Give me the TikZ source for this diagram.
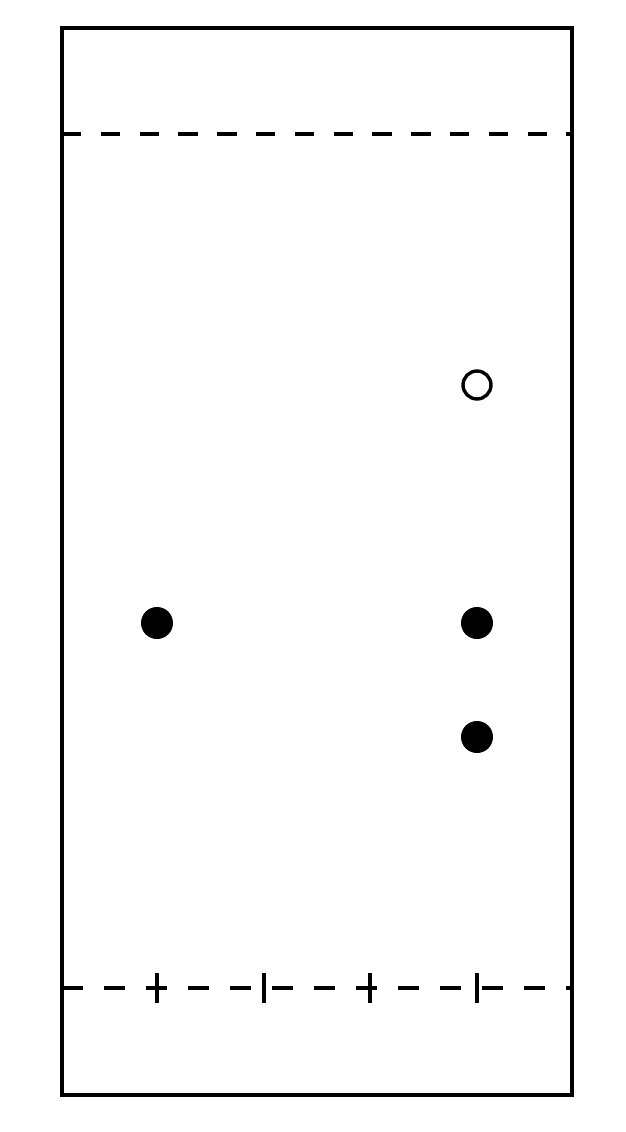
\documentclass[tikz,border=0pt]{standalone}
\begin{document}
\begin{tikzpicture}[x=1pt,y=-1pt,
  frame/.style={line width=3.6pt},
  dashline/.style={line width=3.6pt},
  tickline/.style={line width=3.6pt},
  fulldot/.style={circle,fill=black,inner sep=0pt,minimum size=32pt},
  opendot/.style={circle,draw=black,fill=white,line width=3.4pt,inner sep=0pt,minimum size=28pt}]
\useasboundingbox (0,0) rectangle (626,1132);
\draw[frame] (62,28) rectangle (572,1095);
\coordinate (tl) at (62,134);
\coordinate (tr) at (572,134);
\coordinate (bl) at (62,988);
\coordinate (br) at (572,988);
\draw[dashline,dash pattern=on 19.3pt off 19.5pt] (tl) -- (tr);
\draw[dashline,dash pattern=on 21pt off 21pt] (bl) -- (br);
\foreach \x/\n in {157/t1,264/t2,370/t3,477/t4}{
  \coordinate (\n a) at (\x,973);
  \coordinate (\n b) at (\x,1003);
  \draw[tickline] (\n a) -- (\n b);
}
\node[opendot] (o1) at (477,385) {};
\node[fulldot] (f1) at (157,623) {};
\node[fulldot] (f2) at (477,623) {};
\node[fulldot] (f3) at (477,737) {};
\end{tikzpicture}
\end{document}
